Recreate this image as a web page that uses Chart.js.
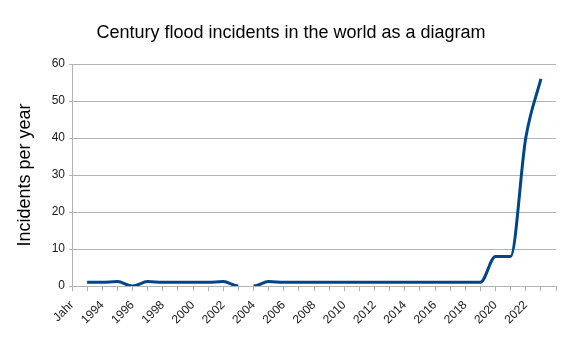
<!DOCTYPE html>
<html>
<head>
<meta charset="utf-8">
<script src="https://cdn.jsdelivr.net/npm/chart.js@4.4.1/dist/chart.umd.min.js"></script>
<style>
  html, body { margin: 0; padding: 0; background: #fff; }
  #wrap { width: 575px; height: 363px; }
</style>
</head>
<body>
<div id="wrap"><canvas id="floods"></canvas></div>
<script>
// categories: first one is the column header, last one is an empty slot
const years = ['Jahr', '1993', '1994', '1995', '1996', '1997', '1998', '1999', '2000', '2001',
  '2002', '2003', '2004', '2005', '2006', '2007', '2008', '2009', '2010', '2011', '2012',
  '2013', '2014', '2015', '2016', '2017', '2018', '2019', '2020', '2021', '2022', '2023', ''];

const incidents = [null, 1, 1, 1.2, 0, 1.2, 1, 1, 1, 1,
  1.2, 0, 0, 1.2, 1, 1, 1, 1, 1, 1, 1,
  1, 1, 1, 1, 1, 1, 1, 8, 8, 40, 56, null];

// the line is broken between 2003 and 2004
const gapAfter = '2003';

const yTicks = [0, 10, 20, 30, 40, 50, 60];

const chartTitle = 'Century flood incidents in the world as a diagram';

const lineColor = '#004586';
const gridColor = '#b3b3b3';
const textColor = '#1a1a1a';
const fontFamily = '"Liberation Sans", Arial, sans-serif';

// title is centred on the whole picture, not on the plot box
const pageTitle = {
  id: 'pageTitle',
  afterDraw(chart) {
    const c = chart.ctx;
    c.save();
    c.fillStyle = '#000';
    c.font = '18px ' + fontFamily;
    c.textAlign = 'center';
    c.textBaseline = 'middle';
    c.fillText(chartTitle, 291, 33);
    c.restore();
  }
};

const ctx = document.getElementById('floods');
new Chart(ctx, {
  type: 'line',
  plugins: [pageTitle],
  data: {
    labels: years,
    datasets: [{
      label: 'Incidents per year',
      data: incidents,
      borderColor: lineColor,
      borderWidth: 3,
      pointRadius: 0,
      cubicInterpolationMode: 'monotone',
      fill: false,
      segment: {
        borderColor: c => years[c.p0DataIndex] === gapAfter ? 'rgba(0,0,0,0)' : lineColor
      }
    }]
  },
  options: {
    responsive: true,
    maintainAspectRatio: false,
    animation: false,
    layout: { padding: { left: 0, right: 19, top: 64, bottom: 0 } },
    plugins: {
      legend: { display: false },
      tooltip: { enabled: false },
      title: { display: false }
    },
    scales: {
      x: {
        type: 'category',
        offset: false,
        border: { color: gridColor },
        grid: { drawOnChartArea: false, color: gridColor, tickLength: 5 },
        ticks: {
          autoSkip: false,
          minRotation: 45,
          maxRotation: 45,
          padding: 7,
          color: textColor,
          font: { family: fontFamily, size: 12 },
          callback: function (v, i) { return i % 2 === 0 ? years[i] : ''; }
        },
        afterFit: s => { s.height = 77; }
      },
      y: {
        min: 0,
        max: 60,
        border: { color: gridColor },
        grid: { color: gridColor, tickLength: 3 },
        afterBuildTicks: s => { s.ticks = yTicks.map(v => ({ value: v })); },
        ticks: {
          padding: 4,
          color: textColor,
          font: { family: fontFamily, size: 12 }
        },
        title: {
          display: true,
          text: 'Incidents per year',
          color: '#000',
          font: { family: fontFamily, size: 18 },
          padding: { top: 14, bottom: 0 }
        },
        afterFit: s => { s.width = 72; }
      }
    }
  }
});
</script>
</body>
</html>
